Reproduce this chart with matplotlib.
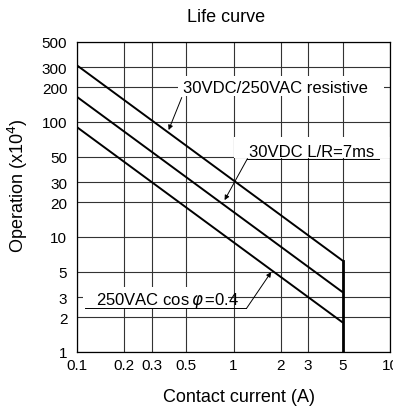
import matplotlib
matplotlib.use("Agg")
import matplotlib.pyplot as plt
from matplotlib.patches import Rectangle

plt.rcParams['font.family'] = ['Liberation Sans', 'DejaVu Sans']

# data
current = [0.1, 5]
resistive = [310, 6.2]      # 30VDC/250VAC resistive
inductive_dc = [165, 3.3]   # 30VDC L/R=7ms
inductive_ac = [90, 1.8]    # 250VAC cos phi=0.4
x_ticks = [0.1, 0.2, 0.3, 0.5, 1, 2, 3, 5, 10]
x_labels = ['0.1', '0.2', '0.3', '0.5', '1', '2', '3', '5', '10']
y_ticks = [1, 2, 3, 5, 10, 20, 30, 50, 100, 200, 300, 500]
y_labels = [str(v) for v in y_ticks]

fig = plt.figure(figsize=(3.93, 4.14), dpi=100)
ax = fig.add_axes([77 / 393, 61 / 414, 313 / 393, 310.5 / 414])
ax.set_xscale('log')
ax.set_yscale('log')
ax.set_xlim(0.1, 10)
ax.set_ylim(1, 500)

ax.set_xticks(x_ticks)
ax.set_xticklabels(x_labels)
ax.set_yticks(y_ticks)
ax.set_yticklabels(y_labels)
ax.minorticks_off()
ax.tick_params(axis='both', length=0, labelsize=11)
ax.tick_params(axis='x', pad=4)
ax.tick_params(axis='y', pad=7)
ax.set_axisbelow(True)
ax.grid(True, color='#333333', lw=0.8)
for s in ax.spines.values():
    s.set_linewidth(0.9)
    s.set_color('black')

# life lines
for series in [resistive, inductive_dc, inductive_ac]:
    ax.plot(current, series, color='black', lw=1.4, zorder=3, solid_capstyle='butt')
# end limit at 5A
ax.plot([current[1], current[1]], [1, resistive[1]], color='black', lw=2.0, zorder=3)


def label(text, box, pos, arrow_from, arrow_to, underline=None, family=None):
    (x0, x1), (y0, y1) = box
    ax.add_patch(Rectangle((x0, y0), x1 - x0, y1 - y0, fc='white', ec='none', zorder=1.5))
    kw = {}
    if family:
        kw['family'] = family
    ax.text(pos[0], pos[1], text, fontsize=12, ha='left', va='baseline', zorder=4, **kw)
    if underline:
        ax.plot(underline[0], underline[1], color='black', lw=0.7, zorder=4)
    ax.annotate('', xy=arrow_to, xytext=arrow_from,
                arrowprops=dict(arrowstyle='-|>', color='black', lw=0.7,
                                mutation_scale=7, shrinkA=0, shrinkB=0), zorder=4)


label('30VDC/250VAC resistive', ((0.44, 9.16), (167, 249)), (0.473, 181),
      (0.467, 163), (0.385, 85))
label('30VDC L/R=7ms', ((1.01, 10), (48.3, 73.5)), (1.265, 50.6),
      (1.228, 48), (0.877, 20.9), underline=([1.228, 8.5], [48, 48]))
label(r'250VAC cos$\,\varphi\,$=0.4', ((0.109, 0.916), (2.41, 3.67)), (0.132, 2.61),
      (1.21, 2.39), (1.74, 4.95), underline=([0.112, 1.21], [2.39, 2.39]),
      family=['Liberation Sans Narrow', 'Liberation Sans'])

fig.text(226 / 393, 1 - 17 / 414, 'Life curve', fontsize=13, ha='center', va='center')
fig.text(239 / 393, 1 - 398 / 414, 'Contact current (A)', fontsize=13, ha='center', va='center')
fig.text(18 / 393, 1 - 186 / 414, r'Operation (x10$^4$)', fontsize=13, ha='center',
         va='center', rotation=90)

fig.savefig('out.png', dpi=100)
